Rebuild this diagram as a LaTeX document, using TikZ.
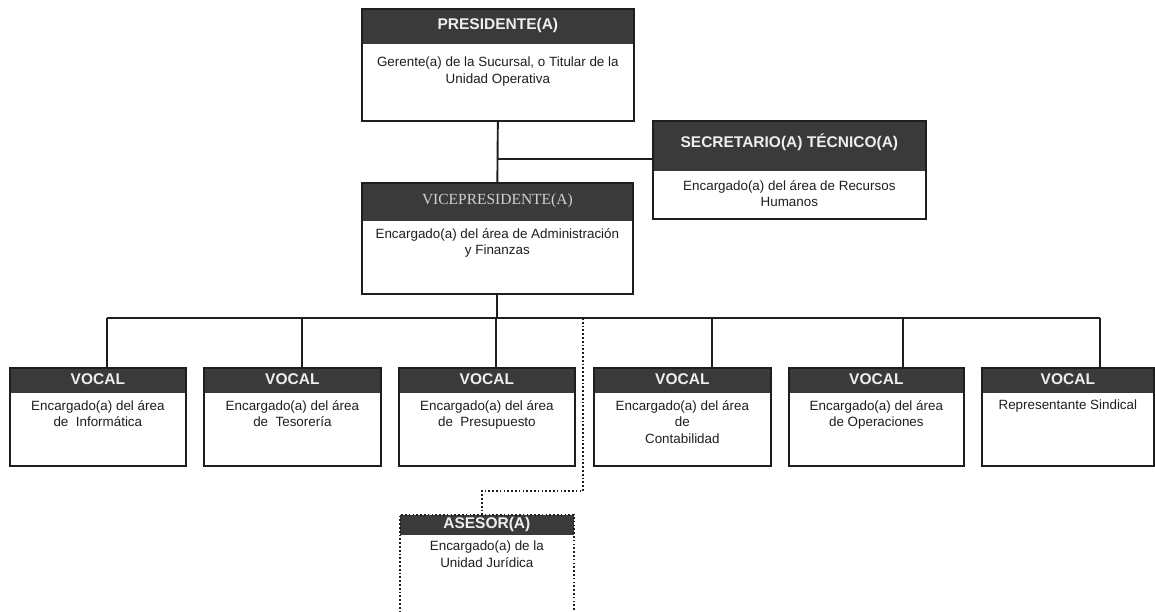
\documentclass[tikz,border=0pt]{standalone}
\usepackage{fontspec}
\setmainfont{Liberation Sans}
\newfontfamily\serifvp{Liberation Serif}
\usetikzlibrary{calc}
\definecolor{hdr}{HTML}{3A3A3A}
\definecolor{ink}{HTML}{1E1E1E}
\definecolor{ttl}{HTML}{EEEEEE}
\tikzset{
  boxframe/.style={draw=ink, line width=1.7pt, inner sep=0pt, anchor=north west},
  titletxt/.style={text=ttl, font=\fontsize{15.5}{18}\selectfont\bfseries, inner sep=0pt},
  bodytxt/.style={text=ink, font=\fontsize{13.4}{16.5}\selectfont, align=center, inner sep=0pt, anchor=north},
  link/.style={draw=ink, line width=1.9pt},
  dotlink/.style={draw=ink, line width=1.8pt, dash pattern=on 1.7pt off 2.1pt},
}
% #1 options, #2 name, #3 position, #4 width, #5 height, #6 header height, #7 title, #8 body, #9 body offset
\newcommand\orgbox[9][]{%
  \node[boxframe, minimum width=#4pt, minimum height=#5pt, #1,
        path picture={\fill[hdr] (path picture bounding box.north west) rectangle ([yshift=-#6pt]path picture bounding box.north east);}]
        (#2) at #3 {};
  \node[titletxt] (#2-title) at ([yshift=-#6pt/2]#2.north) {#7};
  \node[bodytxt] (#2-body) at ([yshift=-#6pt-#9pt]#2.north) {#8};
}
\begin{document}
\begin{tikzpicture}[x=1pt, y=-1pt]
\clip (0,0) rectangle (1155,611);
\fill[white] (0,0) rectangle (1155,611);

\orgbox{pres}{(361,8)}{272}{112}{35}{PRESIDENTE(A)}{Gerente(a) de la Sucursal, o Titular de la\\Unidad Operativa}{14}
\orgbox{sec}{(652,120)}{273}{98}{50}{\raisebox{9pt}{SECRETARIO(A) TÉCNICO(A)}}{Encargado(a) del área de Recursos\\Humanos}{10}
\orgbox{vp}{(361,182)}{271}{111}{38}{\serifvp\mdseries\color{ttl!88!black}VICEPRESIDENTE(A)}{Encargado(a) del área de Administración\\y Finanzas}{8}

\orgbox{v1}{(9,367)}{176}{98}{25}{VOCAL}{Encargado(a) del área\\de\ \ Informática}{8}
\orgbox{v2}{(203,367)}{177}{98}{25}{VOCAL}{Encargado(a) del área\\de\ \ Tesorería}{8}
\orgbox{v3}{(398,367)}{176}{98}{25}{VOCAL}{Encargado(a) del área\\de\ \ Presupuesto}{8}
\orgbox{v4}{(593,367)}{177}{98}{25}{VOCAL}{Encargado(a) del área\\de\\Contabilidad}{8}
\orgbox{v5}{(788,367)}{175}{98}{25}{VOCAL}{Encargado(a) del área\\de Operaciones}{8}
\orgbox{v6}{(981,367)}{172}{98}{25}{VOCAL}{Representante Sindical}{8}

\orgbox[dash pattern=on 1.7pt off 2.1pt]{ase}{(399,514)}{174}{130}{20}{\raisebox{-1.5pt}{ASESOR(A)}}{Encargado(a) de la\\Unidad Jurídica}{7}

% connectors
\draw[link] (pres.south) -- (vp.north);
\coordinate (j) at ($(pres.south)+(0,37)$);
\draw[link] (j) -- (j -| sec.west);

\coordinate (busL) at (107,318);
\coordinate (busR) at (1100,318);
\draw[link] (busL) -- (busR);
\draw[link] (vp.south) -- (vp.south |- busL);

\coordinate (d1) at (107,318);
\coordinate (d2) at (302,318);
\coordinate (d3) at (496,318);
\coordinate (d4) at (712,318);
\coordinate (d5) at (903,318);
\coordinate (d6) at (1100,318);
\draw[link] (d1) -- (d1 |- v1.north);
\draw[link] (d2) -- (d2 |- v2.north);
\draw[link] (d3) -- (d3 |- v3.north);
\draw[link] (d4) -- (d4 |- v4.north);
\draw[link] (d5) -- (d5 |- v5.north);
\draw[link] (d6) -- (d6 |- v6.north);

\coordinate (dt) at (583,318);
\coordinate (dk1) at (583,491);
\coordinate (dk2) at (482,491);
\draw[dotlink] (dt) -- (dk1) -- (dk2) -- (dk2 |- ase.north);
\end{tikzpicture}
\end{document}
